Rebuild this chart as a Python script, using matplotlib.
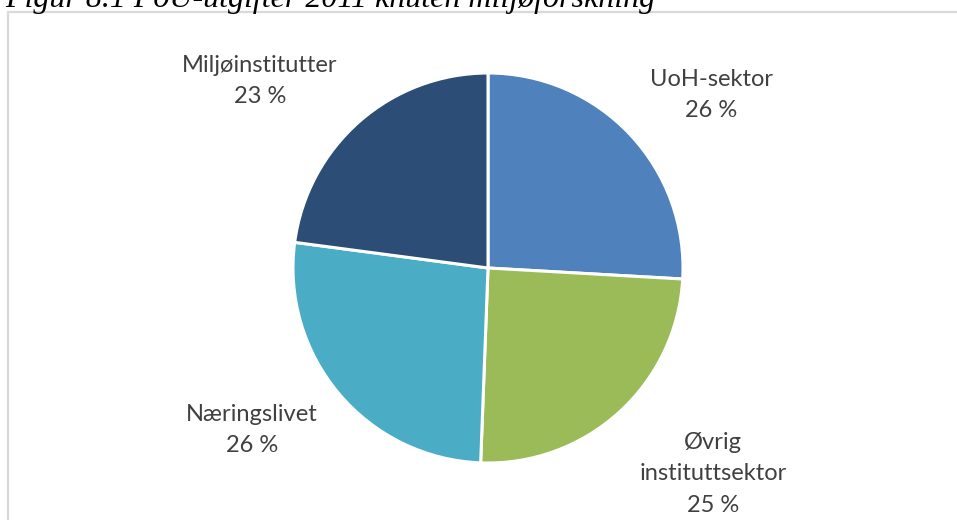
import matplotlib.pyplot as plt
from matplotlib.patches import Rectangle

# andel av FoU-utgifter knyttet til miljøforskning, 2011 (prosent)
sectors = ['UoH-sektor', 'Øvrig\ninstituttsektor', 'Næringslivet', 'Miljøinstitutter']
shares = [25.9, 24.7, 26.5, 22.9]
pct_labels = ['26 %', '25 %', '26 %', '23 %']
colors = ['#4F81BD', '#9BBB59', '#4BACC6', '#2C4D75']

title = 'Figur 8.1 FoU-utgifter 2011 knuten miljøforskning'

W, H = 957, 520
fig = plt.figure(figsize=(W / 100, H / 100), dpi=100)
ax = fig.add_axes([0, 0, 1, 1])

# pie in pixel-like data units (y measured from the bottom)
cx, cy, r = 488, H - 268, 195
ax.pie(shares, colors=colors, startangle=90, counterclock=False,
       center=(cx, cy), radius=r, frame=True,
       wedgeprops=dict(edgecolor='white', linewidth=2.2))
ax.set_xlim(0, W)
ax.set_ylim(0, H)
ax.axis('off')

# label positions (pixels from top-left)
label_pos = [(711, 95), (713, 474), (252, 430), (260, 81)]
for name, pct, (x, y) in zip(sectors, pct_labels, label_pos):
    ax.text(x, H - y, name + '\n' + pct, ha='center', va='center',
            fontsize=17, family='Lato', color='#404040', linespacing=1.6)

# chart frame
ax.add_patch(Rectangle((7.5, -20), W + 20, H - 12 + 20, fill=False,
                       edgecolor='#d9d9d9', linewidth=1.6, clip_on=False))

# caption, partly cut at top of the image
fig.text(5 / W, 1 - 7 / H, title, ha='left', va='baseline',
         fontsize=23, family='Liberation Serif', style='italic', color='black')

fig.savefig('out.png', dpi=100)
